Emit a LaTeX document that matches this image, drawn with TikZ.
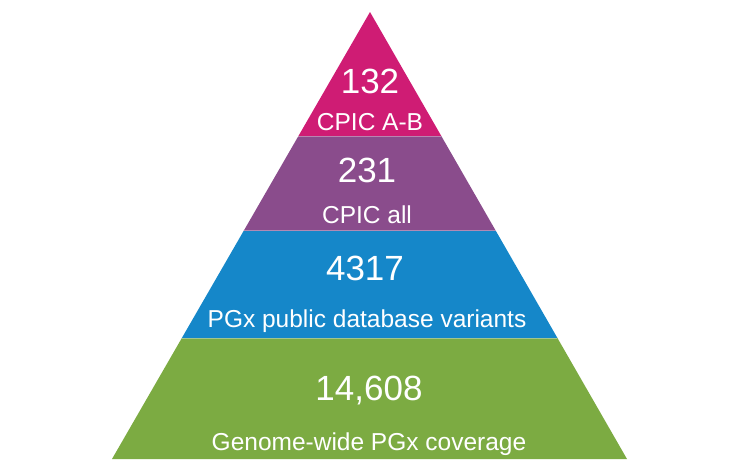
\documentclass[tikz,border=0pt]{standalone}
\usepackage{fontspec}
\setmainfont{Liberation Sans}
\usetikzlibrary{calc}
\definecolor{cpicab}{HTML}{CF1C74}
\definecolor{cpicall}{HTML}{8A4C8C}
\definecolor{pgxdb}{HTML}{1587C9}
\definecolor{genome}{HTML}{7CAB42}

\begin{document}
\begin{tikzpicture}[x=1pt, y=-1pt,
	num/.style={text=white, font=\fontsize{35}{40}\selectfont, anchor=base},
	lbl/.style={text=white, font=\fontsize{24.5}{28}\selectfont, anchor=base}]
			\useasboundingbox (0,0) rectangle (736,475);

			\coordinate (top) at (370, 12);
			\coordinate (bl) at (112, 459);
			\coordinate (br) at (627, 459);

			\coordinate (l1) at ($(top)!0.2774!(bl)$);
			\coordinate (r1) at ($(top)!0.2774!(br)$);
			\coordinate (l2) at ($(top)!0.4899!(bl)$);
			\coordinate (r2) at ($(top)!0.4899!(br)$);
			\coordinate (l3) at ($(top)!0.7293!(bl)$);
			\coordinate (r3) at ($(top)!0.7293!(br)$);

			\fill[genome] (l3) -- (bl) -- (br) -- (r3) -- cycle;
			\fill[pgxdb] (l2) -- (l3) -- (r3) -- (r2) -- cycle;
			\fill[cpicall] (l1) -- (l2) -- (r2) -- (r1) -- cycle;
			\fill[cpicab] (top) -- (l1) -- (r1) -- cycle;

			\draw[white, opacity=0.35, line width=1pt] (l1) -- (r1) (l2) -- (r2) (l3) -- (r3);

			\node[num] (n132) at (370, 93) {132};
			\node[lbl] (t132) at (370, 130) {CPIC A-B};
			\node[num] (n231) at (367, 182) {231};
			\node[lbl] (t231) at (367, 223) {CPIC all};
			\node[num] (n4317) at (365, 280) {4317};
			\node[lbl] (t4317) at (367, 327) {PGx public database variants};
			\node[num] (n14608) at (369, 400) {14,608};
			\node[lbl] (t14608) at (369, 450) {Genome-wide PGx coverage};
		\end{tikzpicture}
\end{document}
